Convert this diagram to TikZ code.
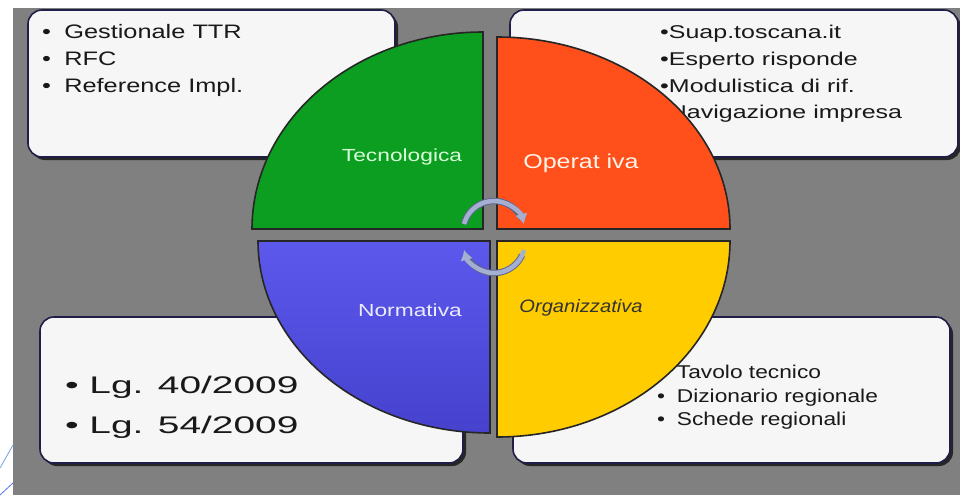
\documentclass[tikz,border=0pt]{standalone}
\usepackage{fontspec}
\usepackage{graphicx}
\setmainfont{Liberation Sans}
\usetikzlibrary{arrows.meta}
\definecolor{slidegray}{RGB}{128,128,128}
\definecolor{boxfill}{RGB}{246,246,246}
\definecolor{boxline}{RGB}{30,30,72}
\definecolor{qgreen}{RGB}{12,158,32}
\definecolor{qorange}{RGB}{255,80,27}
\definecolor{qbluetop}{RGB}{92,88,236}
\definecolor{qbluebot}{RGB}{70,66,206}
\definecolor{qyellow}{RGB}{255,204,0}
\definecolor{cycarrow}{RGB}{165,175,210}
\definecolor{cycedge}{RGB}{95,102,140}
\definecolor{decoblue}{RGB}{120,160,220}
\newcommand\bline[3]{\scalebox{#1}[1]{\makebox[#2][l]{\textbullet}#3}}
\newcommand\pline[2]{\scalebox{#1}[1]{#2}}
\tikzset{
  infobox/.style={fill=boxfill, draw=boxline, line width=1.6pt, rounded corners=14pt},
  boxshadow/.style={fill=black!85, rounded corners=14pt},
  quadrant/.style={draw=black!85, line width=1.6pt},
  listtext/.style={anchor=base west, inner sep=0pt, text=black!90},
  qlabel/.style={anchor=center, inner sep=0pt},
  cycedge/.style={draw=cycedge, line width=6.5pt},
  cyc/.style={draw=cycarrow, line width=4.5pt, -{Latex[length=10pt,width=13pt]}}
}
\begin{document}
\begin{tikzpicture}[x=1pt, y=-1pt]
\useasboundingbox (0,0) rectangle (960,495);
\fill[white] (0,0) rectangle (960,495);
\fill[slidegray] (13,8) rectangle (960,495);
\draw[decoblue, line width=0.8pt] (0,468) -- (13,445);
\draw[decoblue!70!blue, line width=0.8pt] (0,495) -- (13,483);
\fill[boxshadow] (31,13) rectangle (398,160);
\draw[infobox] (28,10) rectangle (395,157);
\fill[boxshadow] (513,13) rectangle (961,160);
\draw[infobox] (510,10) rectangle (958,157);
\fill[boxshadow] (43,320) rectangle (466,466);
\draw[infobox] (40,317) rectangle (463,463);
\fill[boxshadow] (516,320) rectangle (953,466);
\draw[infobox] (513,317) rectangle (950,463);
\node[listtext, font=\fontsize{19.5}{24}\selectfont] (tl1) at (42,39) {\bline{1.3}{17pt}{Gestionale TTR}};
\node[listtext, font=\fontsize{19.5}{24}\selectfont] (tl2) at (42,65.5) {\bline{1.3}{17pt}{RFC}};
\node[listtext, font=\fontsize{19.5}{24}\selectfont] (tl3) at (42,92) {\bline{1.3}{17pt}{Reference Impl.}};
\node[listtext, font=\fontsize{18.5}{24}\selectfont] (tr1) at (660,38) {\pline{1.35}{\textbullet Suap.toscana.it}};
\node[listtext, font=\fontsize{18.5}{24}\selectfont] (tr2) at (660,65) {\pline{1.35}{\textbullet Esperto risponde}};
\node[listtext, font=\fontsize{18.5}{24}\selectfont] (tr3) at (660,92) {\pline{1.35}{\textbullet Modulistica di rif.}};
\node[listtext, font=\fontsize{18.5}{24}\selectfont] (tr4) at (660,118) {\pline{1.35}{\textbullet Navigazione impresa}};
\node[listtext, font=\fontsize{24}{28}\selectfont] (bl1) at (65,393) {\bline{1.62}{15pt}{Lg. 40/2009}};
\node[listtext, font=\fontsize{24}{28}\selectfont] (bl2) at (65,433) {\bline{1.62}{15pt}{Lg. 54/2009}};
\node[listtext, font=\fontsize{18.5}{24}\selectfont] (br1) at (657,378) {\bline{1.23}{16pt}{Tavolo tecnico}};
\node[listtext, font=\fontsize{18.5}{24}\selectfont] (br2) at (657,402) {\bline{1.23}{16pt}{Dizionario regionale}};
\node[listtext, font=\fontsize{18.5}{24}\selectfont] (br3) at (657,425) {\bline{1.23}{16pt}{Schede regionali}};
\fill[quadrant, fill=qgreen] (483,229) -- (252,229) arc[start angle=180, end angle=270, x radius=231, y radius=197] -- cycle;
\fill[quadrant, fill=qorange] (497,229) -- (497,37) arc[start angle=270, end angle=360, x radius=233, y radius=192] -- cycle;
\fill[quadrant, top color=qbluetop, bottom color=qbluebot] (490,241) -- (258,241) arc[start angle=180, end angle=90, x radius=232, y radius=192] -- cycle;
\fill[quadrant, fill=qyellow] (497,241) -- (730,241) arc[start angle=0, end angle=90, x radius=233, y radius=196] -- cycle;
\node[qlabel, text=green!15, font=\fontsize{17.5}{20}\selectfont] (tecno) at (402,157) {\pline{1.3}{Tecnologica}};
\node[qlabel, text=orange!8, font=\fontsize{20}{24}\selectfont] (operat) at (581,163) {\pline{1.25}{Operat iva}};
\node[qlabel, text=blue!8, font=\fontsize{17.5}{20}\selectfont] (norma) at (410,310) {\pline{1.3}{Normativa}};
\node[qlabel, text=black!80, font=\fontsize{18}{22}\itshape\selectfont] (organ) at (581,308) {\pline{1.12}{Organizzativa}};
\draw[cycedge] (494,232) ++(195:31) arc[start angle=195, end angle=335, radius=31];
\draw[cyc] (494,232) ++(195:31) arc[start angle=195, end angle=345, radius=31];
\draw[cycedge] (494,242) ++(25:31) arc[start angle=25, end angle=155, radius=31];
\draw[cyc] (494,242) ++(15:31) arc[start angle=15, end angle=165, radius=31];
\end{tikzpicture}
\end{document}
